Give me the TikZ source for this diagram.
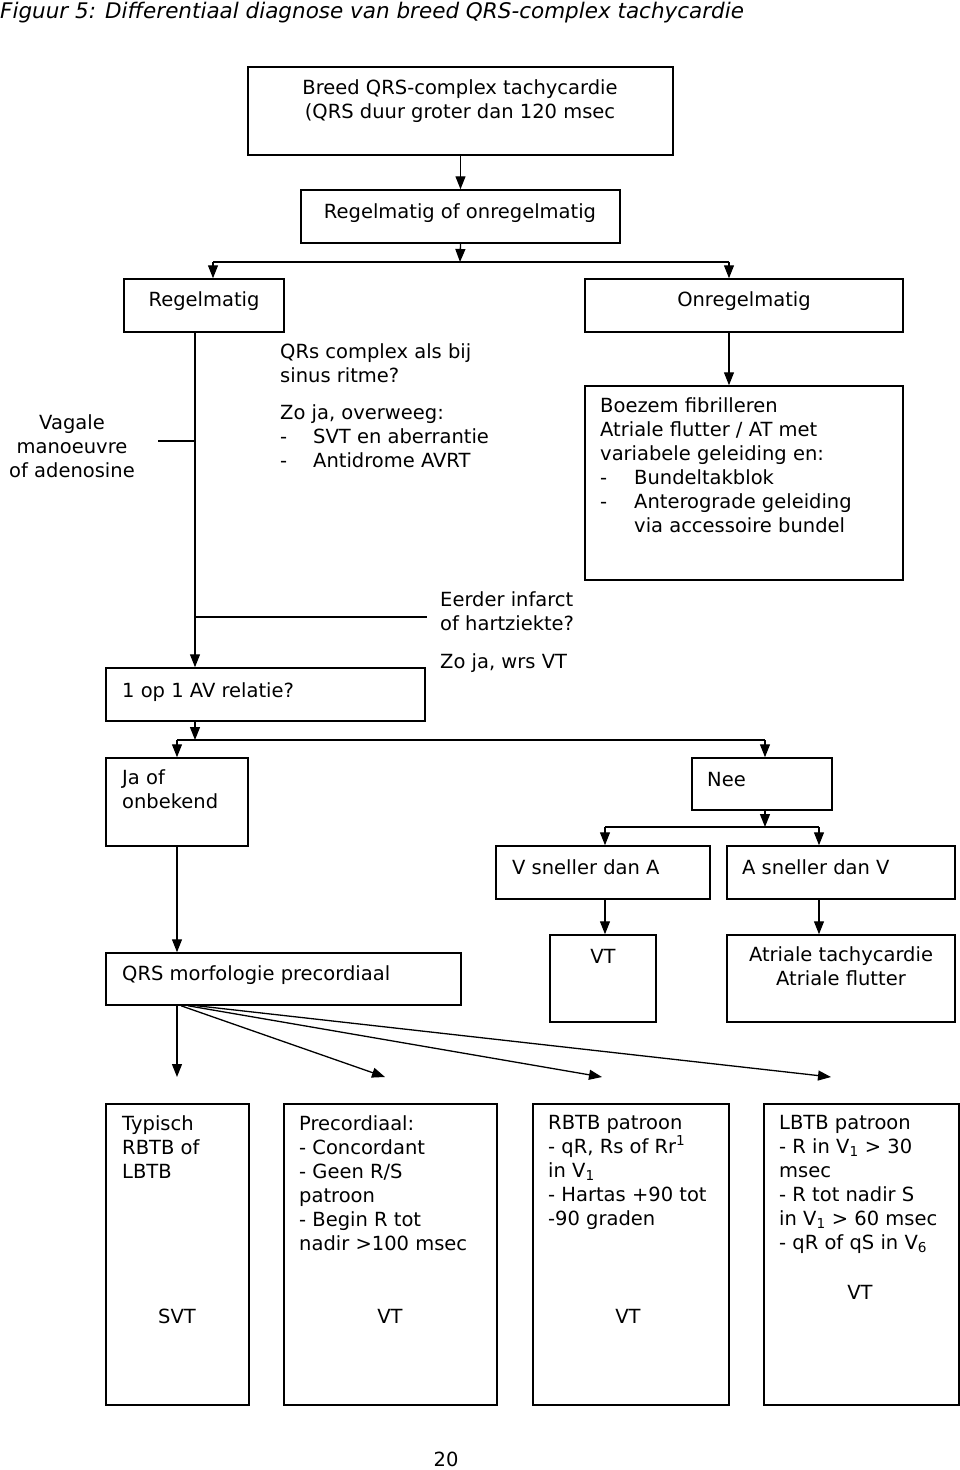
\documentclass[tikz,border=0pt]{standalone}
\usepackage{fontspec}
\setmainfont{DejaVu Sans}
\usetikzlibrary{arrows.meta,positioning,calc}
\newcommand{\dfont}{\fontsize{19.5}{24}\selectfont}
\newcommand{\dash}{\makebox[33pt][l]{-}}

\begin{document}
\begin{tikzpicture}[x=1pt,y=-1pt,
    box/.style={rectangle, draw, line width=1.5pt, inner sep=0pt},
    txt/.style={inner sep=0pt, anchor=north west, align=left, font=\dfont, execute at begin node=\strut},
    ctxt/.style={inner sep=0pt, anchor=north, align=center, font=\dfont, execute at begin node=\strut},
    arr/.style={-{Triangle[length=13pt,width=10pt]}, line width=1.3pt},
    lin/.style={line width=1.3pt}]
        \useasboundingbox (0,0) rectangle (960,1470);

        % Caption
        \node[txt, font=\fontsize{21.5}{26}\selectfont\itshape] (caption) at (0,0) {Figuur 5: Differentiaal diagnose van breed QRS-complex tachycardie};

        % Start
        \node[box, minimum width=425pt, minimum height=88pt] (breed) at (460.5,111) {};
        \node[ctxt] (breedtxt) at (460,79) {Breed QRS-complex tachycardie\\(QRS duur groter dan 120 msec};
        \node[box, minimum width=319pt, minimum height=53pt] (keuze) at (460.5,216.5) {};
        \node[ctxt] (keuzetxt) at (460,201) {Regelmatig of onregelmatig};

        % Regelmatig / Onregelmatig
        \node[box, minimum width=160pt, minimum height=53pt] (regel) at (204,305.5) {};
        \node[ctxt] (regeltxt) at (204,289) {Regelmatig};
        \node[box, minimum width=318pt, minimum height=53pt] (onregel) at (744,305.5) {};
        \node[ctxt] (onregeltxt) at (744,289) {Onregelmatig};
        \node[box, minimum width=318pt, minimum height=194pt] (boezem) at (744,483) {};
        \node[txt] (boezemtxt) at (600,397) {Boezem fibrilleren\\Atriale flutter / AT met\\variabele geleiding en:\\\makebox[34pt][l]{-}Bundeltakblok\\\makebox[34pt][l]{-}Anterograde geleiding\\\hspace*{34pt}via accessoire bundel};

        % Side notes
        \node[txt] (sinus) at (280,343) {QRs complex als bij\\sinus ritme?};
        \node[txt] (overweeg) at (280,404) {Zo ja, overweeg:\\\dash SVT en aberrantie\\\dash Antidrome AVRT};
        \node[ctxt] (vagale) at (72,414) {Vagale\\manoeuvre\\of adenosine};
        \node[txt] (eerder) at (440,591) {Eerder infarct\\of hartziekte?};
        \node[txt] (wrsvt) at (440,651) {Zo ja, wrs VT};

        % AV relatie
        \node[box, minimum width=319pt, minimum height=53pt] (avrel) at (265.5,694.5) {};
        \node[txt] (avreltxt) at (122,680) {1 op 1 AV relatie?};
        \node[box, minimum width=142pt, minimum height=88pt] (jaonb) at (177,802) {};
        \node[txt] (jaonbtxt) at (122,769) {Ja of\\onbekend};
        \node[box, minimum width=140pt, minimum height=52pt] (nee) at (762,784) {};
        \node[txt] (neetxt) at (707,769) {Nee};

        % Nee tak
        \node[box, minimum width=214pt, minimum height=53pt] (vsnel) at (603,872.5) {};
        \node[txt] (vsneltxt) at (512,857) {V sneller dan A};
        \node[box, minimum width=228pt, minimum height=53pt] (asnel) at (841,872.5) {};
        \node[txt] (asneltxt) at (742,857) {A sneller dan V};
        \node[box, minimum width=106pt, minimum height=87pt] (vt) at (603,978.5) {};
        \node[ctxt] (vttxt) at (603,946) {VT};
        \node[box, minimum width=228pt, minimum height=87pt] (atr) at (841,978.5) {};
        \node[ctxt] (atrtxt) at (841,946) {Atriale tachycardie\\Atriale flutter};

        % Morfologie
        \node[box, minimum width=355pt, minimum height=52pt] (qrs) at (283.5,979) {};
        \node[txt] (qrstxt) at (122,963) {QRS morfologie precordiaal};

        \node[box, minimum width=143pt, minimum height=301pt] (svtb) at (177.5,1254.5) {};
        \node[txt] (svtbtxt) at (122,1115) {Typisch\\RBTB of\\LBTB};
        \node[ctxt] (svtbres) at (177,1306) {SVT};
        \node[box, minimum width=213pt, minimum height=301pt] (precb) at (390.5,1254.5) {};
        \node[txt] (precbtxt) at (299,1115) {Precordiaal:\\- Concordant\\- Geen R/S\\patroon\\- Begin R tot\\nadir >100 msec};
        \node[ctxt] (precbres) at (390,1306) {VT};
        \node[box, minimum width=196pt, minimum height=301pt] (rbtb) at (631,1254.5) {};
        \node[txt] (rbtbtxt) at (548,1115) {RBTB patroon\\- qR, Rs of Rr\textsuperscript{1}\\in V\textsubscript{1}\\- Hartas +90 tot\\-90 graden};
        \node[ctxt] (rbtbres) at (628,1306) {VT};
        \node[box, minimum width=195pt, minimum height=301pt] (lbtb) at (861.5,1254.5) {};
        \node[txt] (lbtbtxt) at (779,1115) {LBTB patroon\\- R in V\textsubscript{1} > 30\\msec\\- R tot nadir S\\in V\textsubscript{1} > 60 msec\\- qR of qS in V\textsubscript{6}};
        \node[ctxt] (lbtbres) at (860,1282) {VT};

        \node[ctxt] (pagenr) at (446,1449) {20};

        % Split points
        \coordinate (split1) at (460,262);
        \coordinate (s1l) at (213,262);
        \coordinate (s1r) at (729,262);
        \coordinate (spine) at (195,332);
        \coordinate (vagend) at (158,441);
        \coordinate (eerend) at (427,617);
        \coordinate (split2) at (195,740);
        \coordinate (split3) at (765,827);
        \coordinate (s3l) at (605,827);
        \coordinate (s3r) at (819,827);

        % Arrows
        \draw[arr] (breed.south) -- (keuze.north);
        \draw[arr] (keuze.south) -- (split1);
        \draw[lin] (s1l) -- (s1r);
        \draw[arr] (s1l) -- (s1l |- regel.north);
        \draw[arr] (s1r) -- (s1r |- onregel.north);
        \draw[arr] (s1r |- onregel.south) -- (s1r |- boezem.north);

        \draw[arr] (spine) -- (spine |- avrel.north);
        \draw[lin] (vagend) -- (vagend -| spine);
        \draw[lin] (spine |- eerend) -- (eerend);

        \draw[arr] (spine |- avrel.south) -- (split2);
        \draw[lin] (jaonb.north |- split2) -- (split3 |- split2);
        \draw[arr] (jaonb.north |- split2) -- (jaonb.north);
        \draw[arr] (split3 |- split2) -- (split3 |- nee.north);

        \draw[arr] (split3 |- nee.south) -- (split3);
        \draw[lin] (s3l) -- (s3r);
        \draw[arr] (s3l) -- (s3l |- vsnel.north);
        \draw[arr] (s3r) -- (s3r |- asnel.north);
        \draw[arr] (s3l |- vsnel.south) -- (s3l |- vt.north);
        \draw[arr] (s3r |- asnel.south) -- (s3r |- atr.north);

        \draw[arr] (jaonb.south) -- (jaonb.south |- qrs.north);

        % Morfologie fan
        \coordinate (t1) at (177,1077);
        \coordinate (t2) at (385,1077);
        \coordinate (t3) at (602,1077);
        \coordinate (t4) at (831,1077);
        \draw[arr] (t1 |- qrs.south) -- (t1);
        \draw[arr] (qrs.south -| 181,0) -- (t2);
        \draw[arr] (qrs.south -| 188,0) -- (t3);
        \draw[arr] (qrs.south -| 197,0) -- (t4);
      \end{tikzpicture}
\end{document}
